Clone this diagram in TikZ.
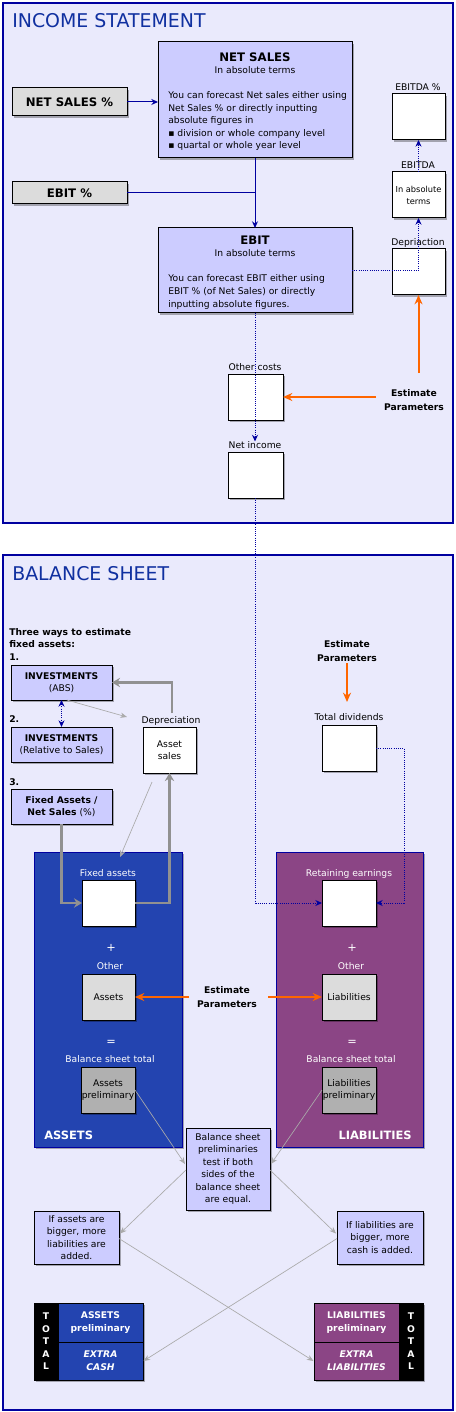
\documentclass[tikz,border=0pt]{standalone}
\usepackage{fontspec}
\setmainfont{DejaVu Sans}
\usetikzlibrary{arrows.meta,shadows,calc}
\definecolor{bgl}{RGB}{234,234,252}
\definecolor{boxl}{RGB}{204,204,255}
\definecolor{gry}{RGB}{220,220,220}
\definecolor{dgry}{RGB}{176,176,176}
\definecolor{ablue}{RGB}{35,68,176}
\definecolor{lpurp}{RGB}{139,69,133}
\definecolor{orng}{RGB}{255,102,0}
\definecolor{dblue}{RGB}{0,0,160}
\definecolor{tblue}{RGB}{16,48,160}
\definecolor{gthk}{RGB}{145,145,145}
\definecolor{gthn}{RGB}{170,170,170}
\newcommand\smtxt{\fontsize{6.9}{9.4}\selectfont}
\newcommand\bsmtxt{\bfseries\fontsize{6.9}{10}\selectfont}
\newcommand\ttltxt{\bfseries\fontsize{8.8}{10}\selectfont}
\begin{document}
\begin{tikzpicture}[x=0.75pt,y=-0.75pt,
  sz/.style 2 args={minimum width=#1*0.75pt,minimum height=#2*0.75pt},
  shd/.style={drop shadow={shadow xshift=1.6pt,shadow yshift=-1.6pt,opacity=0.3,fill=black}},
  boxbase/.style={draw=black,line width=0.75pt,inner sep=0pt,outer sep=0pt,shd,align=center,font=\smtxt},
  pbox/.style={boxbase,fill=boxl},
  gbox/.style={boxbase,fill=gry},
  dbox/.style={boxbase,fill=dgry},
  wbox/.style={boxbase,fill=white},
  frame/.style={draw=dblue,line width=0.9pt,fill=bgl,inner sep=0pt},
  panel/.style={draw=dblue,line width=0.75pt,inner sep=0pt,shd},
  txt/.style={inner sep=0pt,font=\smtxt,text height=5pt,text depth=1.4pt},
  wtxt/.style={txt,text=white},
  sym/.style={inner sep=0pt,font=\fontsize{8.5}{10}\selectfont,text=white},
  bline/.style={txt,font=\bsmtxt},
  btxt/.style={inner sep=0pt,font=\bsmtxt,align=center},
  ttl/.style={inner sep=0pt,font=\ttltxt},
  head/.style={inner sep=0pt,font=\fontsize{14.2}{16}\selectfont,text=tblue},
  panlab/.style={inner sep=0pt,font=\bfseries\fontsize{8.6}{10}\selectfont,text=white},
  tpart/.style={draw=black,line width=0.75pt,inner sep=0pt,text=white,font=\bsmtxt,align=center},
  bl/.style={draw=dblue,line width=0.75pt},
  blarr/.style={bl,-{Stealth[length=5pt,width=4.5pt]}},
  dotb/.style={draw=dblue,line width=0.75pt,dash pattern=on 0.75pt off 0.9pt,-{Stealth[length=5pt,width=4.5pt]}},
  orar/.style={draw=orng,line width=1.5pt,-{Stealth[length=7pt,width=6pt]}},
  gthick/.style={draw=gthk,line width=2.2pt,-{Stealth[length=6pt,width=7pt]}},
  gthin/.style={draw=gthn,line width=0.5pt,-{Stealth[length=5pt,width=4pt]}}
]
\fill[white] (0,0) rectangle (456,1412);
\useasboundingbox (0,0) rectangle (456,1412);
% frames
\node[frame,sz={450}{520}] (incf) at (228,263) {};
\node[frame,sz={450}{855}] (balf) at (228,982.5) {};
\node[head,anchor=base west] (inct) at (12,28) {INCOME STATEMENT};
\node[head,anchor=base west] (balt) at (12,580) {BALANCE SHEET};

% ---------- income statement
\node[gbox,sz={115}{28},font=\ttltxt] (nsp) at (69.5,102) {NET SALES \%};
\node[gbox,sz={115}{22},font=\ttltxt] (ebp) at (69.5,193) {EBIT \%};
\node[pbox,sz={194}{116}] (ns) at (255,100) {};
\node[ttl] (nst) at (255,57) {NET SALES};
\node[txt] (nss) at (255,71) {In absolute terms};
\node[txt,anchor=west] (nsl1) at (168,96) {You can forecast Net sales either using};
\node[txt,anchor=west] (nsl2) at (168,109) {Net Sales \% or directly inputting};
\node[txt,anchor=west] (nsl3) at (168,121) {absolute figures in};
\node[txt,anchor=west] (nsl4) at (168,134) {▪ division or whole company level};
\node[txt,anchor=west] (nsl5) at (168,146) {▪ quartal or whole year level};

\node[pbox,sz={194}{85}] (eb) at (255,270.5) {};
\node[ttl] (ebt) at (255,240) {EBIT};
\node[txt] (ebs) at (255,254) {In absolute terms};
\node[txt,anchor=west] (ebl1) at (168,279) {You can forecast EBIT either using};
\node[txt,anchor=west] (ebl2) at (168,292) {EBIT \% (of Net Sales) or directly};
\node[txt,anchor=west] (ebl3) at (168,305) {inputting absolute figures.};

\node[wbox,sz={53}{46}] (ebdp) at (418.5,117) {};
\node[txt] (ebdpl) at (418,88) {EBITDA \%};
\node[wbox,sz={53}{46},font=\fontsize{6.2}{9}\selectfont] (ebd) at (418.5,195) {In absolute\\terms};
\node[txt] (ebdl) at (418,166) {EBITDA};
\node[wbox,sz={53}{46}] (dep) at (418.5,272) {};
\node[txt] (depl) at (418,243) {Depriaction};
\node[wbox,sz={55}{46}] (oc) at (255.5,397) {};
\node[txt] (ocl) at (255,368) {Other costs};
\node[wbox,sz={55}{46}] (ni) at (255.5,475) {};
\node[txt] (nil) at (255,446) {Net income};
\node[btxt] (est1) at (414,400) {Estimate\\Parameters};

\draw[blarr] (nsp.east) -- (nsp.east -| ns.west);
\draw[bl] (ebp.east) -- (ebp.east -| ns.south);
\draw[blarr] (ns.south) -- (eb.north);
\draw[dotb] (eb.east) -| (ebd.south);
\draw[dotb] (ebd.north) -- (ebdp.south);
\draw[dotb] (eb.south) -- (eb.south |- nil.north);
\coordinate (e1u) at (418.5,373);
\draw[orar] (e1u) -- (dep.south);
\coordinate (e1l) at (376,397);
\draw[orar] (e1l) -- (oc.east);

% ---------- balance sheet
\node[bline,anchor=west] (tw1) at (9,633) {Three ways to estimate};
\node[bline,anchor=west] (tw2) at (9,645) {fixed assets:};
\node[bline,anchor=west] (n1) at (9,658) {1.};
\node[bline,anchor=west] (n2) at (9,720) {2.};
\node[bline,anchor=west] (n3) at (9,783) {3.};

\node[pbox,sz={101}{35}] (ia) at (61.5,682.5) {\textbf{INVESTMENTS}\\(ABS)};
\node[pbox,sz={101}{35}] (ir) at (61.5,744.5) {\textbf{INVESTMENTS}\\(Relative to Sales)};
\node[pbox,sz={101}{35}] (fn) at (61.5,806.5) {\textbf{Fixed Assets /}\\\textbf{Net Sales} (\%)};
\node[wbox,sz={53}{46}] (as) at (169.5,750) {Asset\\sales};
\node[txt] (asl) at (171,721) {Depreciation};
\node[wbox,sz={54}{46}] (td) at (349,748) {};
\node[txt] (tdl) at (349,718) {Total dividends};
\node[btxt] (est2) at (347,651) {Estimate\\Parameters};

\node[panel,fill=ablue,sz={148}{295}] (apn) at (108,999.5) {};
\node[panel,fill=lpurp,sz={147}{295}] (lpn) at (349.5,999.5) {};
\node[wtxt] (fal) at (108,874) {Fixed assets};
\node[wbox,sz={53}{46}] (fa) at (108.5,903) {};
\node[sym] (apl) at (111,948) {+};
\node[wtxt] (aol) at (110,967) {Other};
\node[gbox,sz={53}{46}] (ab) at (108.5,997) {Assets};
\node[sym] (ael) at (111,1043) {=};
\node[wtxt] (abt) at (110,1060) {Balance sheet total};
\node[dbox,sz={54}{46}] (ap) at (108,1090) {Assets\\preliminary};
\node[panlab,anchor=west] (aslab) at (44,1135) {ASSETS};

\node[wtxt] (rel) at (349,874) {Retaining earnings};
\node[wbox,sz={54}{46}] (re) at (349,903) {};
\node[sym] (lpl) at (352,948) {+};
\node[wtxt] (lol) at (351,967) {Other};
\node[gbox,sz={54}{46}] (lb) at (349,997) {Liabilities};
\node[sym] (lel) at (352,1043) {=};
\node[wtxt] (lbt) at (351,1060) {Balance sheet total};
\node[dbox,sz={54}{46}] (lp) at (349,1090) {Liabilities\\preliminary};
\node[panlab,anchor=east] (lslab) at (412,1135) {LIABILITIES};

\node[btxt] (est3) at (227,997) {Estimate\\Parameters};

\node[pbox,sz={84}{82}] (bst) at (228,1169) {Balance sheet\\preliminaries\\test if both\\sides of the\\balance sheet\\are equal.};
\node[pbox,sz={85}{53}] (ifa) at (76.5,1237.5) {If assets are\\bigger, more\\liabilities are\\added.};
\node[pbox,sz={86}{53}] (ifl) at (380,1237.5) {If liabilities are\\bigger, more\\cash is added.};

% total boxes
\node[boxbase,fill=black,sz={109}{77}] (tl) at (88.5,1341.5) {};
\node[tpart,fill=black,sz={24}{77},font=\bfseries\fontsize{6.9}{9.4}\selectfont] (tlk) at (46,1341.5) {T\\O\\T\\A\\L};
\node[tpart,fill=ablue,sz={85}{39}] (tla) at (100.5,1322.5) {ASSETS\\preliminary};
\node[tpart,fill=ablue,sz={85}{38},font=\bsmtxt\itshape] (tlc) at (100.5,1361) {EXTRA\\CASH};
\node[boxbase,fill=black,sz={109}{77}] (tr) at (368.5,1341.5) {};
\node[tpart,fill=black,sz={24}{77},font=\bfseries\fontsize{6.9}{9.4}\selectfont] (trk) at (411,1341.5) {T\\O\\T\\A\\L};
\node[tpart,fill=lpurp,sz={85}{39}] (tra) at (356.5,1322.5) {LIABILITIES\\preliminary};
\node[tpart,fill=lpurp,sz={85}{38},font=\bsmtxt\itshape] (trc) at (356.5,1361) {EXTRA\\LIABILITIES};

% connectors balance
\draw[dotb,{Stealth[length=5pt,width=4.5pt]}-{Stealth[length=5pt,width=4.5pt]}] (ia.south) -- (ir.north);
\draw[dotb] (ni.south) |- (re.west);
\draw[dotb] (td.east) -- ++(28,0) |- (re.east);
\coordinate (e2b) at (347,702);
\draw[orar] ([yshift=-1.5pt]est2.south) -- (e2b);
\coordinate (e3l) at (189,997);
\coordinate (e3r) at (268,997);
\draw[orar] (e3l) -- (ab.east);
\draw[orar] (e3r) -- (lb.west);
\coordinate (g1) at (172,713);
\draw[gthick] (g1) |- (ia.east);
\draw[gthick] (fn.south) |- (fa.west);
\draw[gthick] (fa.east) -| (as.south);
\coordinate (t1) at (127,717);
\draw[gthin] ([xshift=4pt]ia.south) -- (t1);
\coordinate (t2a) at (152,782);
\coordinate (t2b) at (120,857);
\draw[gthin] (t2a) -- (t2b);
\draw[gthin] (ap.east) -- ($(bst.west)+(-1,-5)$);
\draw[gthin] (lp.west) -- ($(bst.east)+(1,-5)$);
\draw[gthin] ($(bst.west)+(0,1)$) -- ($(ifa.east)+(1,-4)$);
\draw[gthin] ($(bst.east)+(0,1)$) -- ($(ifl.west)+(-1,-4)$);
\draw[gthin] ($(ifa.east)+(0,1)$) -- (trc.west);
\draw[gthin] ($(ifl.west)+(0,1)$) -- (tlc.east);
\end{tikzpicture}
\end{document}
